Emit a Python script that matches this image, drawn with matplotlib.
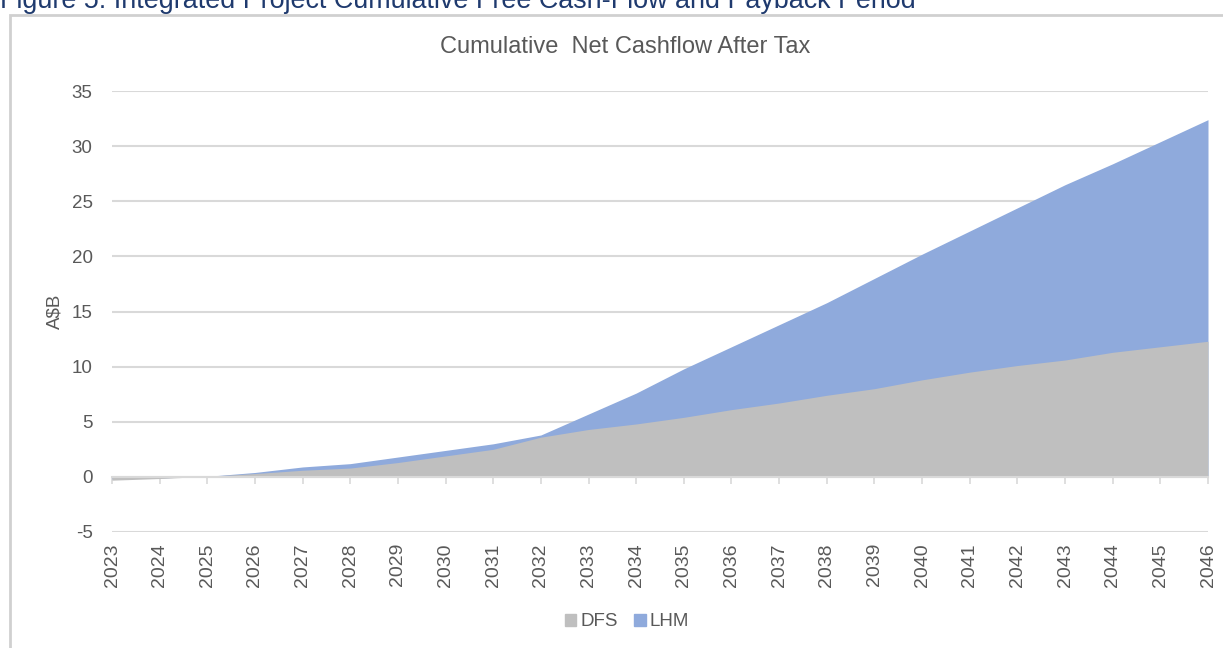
import matplotlib
matplotlib.use("Agg")
import matplotlib.pyplot as plt
from matplotlib.patches import Patch, Rectangle

plt.rcParams['font.family'] = ['Liberation Sans', 'DejaVu Sans']
plt.rcParams['axes.unicode_minus'] = False

# chart data (A$B, cumulative)
years = list(range(2023, 2047))
dfs = [-0.3, -0.15, 0.05, 0.3, 0.6, 0.8, 1.3, 1.9, 2.5, 3.6, 4.3, 4.8,
       5.4, 6.1, 6.7, 7.4, 8.0, 8.8, 9.5, 10.1, 10.6, 11.3, 11.8, 12.3]
lhm = [-0.2, -0.1, 0.05, 0.4, 0.9, 1.2, 1.8, 2.4, 3.0, 3.8, 5.7, 7.6,
       9.8, 11.8, 13.8, 15.8, 18.0, 20.2, 22.3, 24.4, 26.5, 28.4, 30.4, 32.4]
yticks = [-5, 0, 5, 10, 15, 20, 25, 30, 35]

grey_txt = '#595959'
fig = plt.figure(figsize=(12.23, 6.48), dpi=100)

# caption above the chart box (partly cut at the top, as in the source)
fig.text(0.0, 1 - 8/648, "Figure 5: Integrated Project Cumulative Free Cash-Flow and Payback Period",
         color='#1F3A6E', fontsize=19.4, ha='left', va='baseline')
# chart border
fig.patches.append(Rectangle((10/1223, -0.05), 1.2, 1 - 15/648 + 0.05, transform=fig.transFigure,
                             fill=False, edgecolor='#D0D0D0', linewidth=2))
# chart title, centred on the chart box rather than the plot area
fig.text(625/1223, 1 - 47/648, 'Cumulative  Net Cashflow After Tax', fontsize=17,
         color=grey_txt, ha='center', va='center')

ax = fig.add_axes([112/1223, 1 - 532/648, (1208 - 112)/1223, (532 - 91)/648])
ax.fill_between(years, lhm, 0, color='#8FAADC', linewidth=0, zorder=2)
ax.fill_between(years, dfs, 0, color='#BFBFBF', linewidth=0, zorder=3)

ax.set_xlim(2023, 2046)
ax.set_ylim(-5, 35)
ax.set_yticks(yticks)
ax.yaxis.grid(True, color='#D9D9D9', linewidth=1.5, zorder=1)
ax.set_axisbelow(True)
ax.tick_params(axis='y', length=0, labelsize=13.5, labelcolor=grey_txt, pad=14)
for s in ['left', 'right', 'top']:
    ax.spines[s].set_visible(False)
ax.spines['bottom'].set_position(('data', 0))
ax.spines['bottom'].set_color('#D9D9D9')
ax.spines['bottom'].set_linewidth(1.5)
ax.spines['bottom'].set_zorder(4)
ax.set_xticks(years)
ax.tick_params(axis='x', length=5, color='#D9D9D9', width=1.2, labelbottom=False)

sec = ax.secondary_xaxis('bottom')
sec.set_xticks(years, [str(y) for y in years], rotation=90)
sec.tick_params(length=0, labelsize=14, labelcolor=grey_txt, pad=8)
sec.spines['bottom'].set_visible(False)

ax.set_ylabel('A$B', fontsize=13.5, color=grey_txt, labelpad=6)

handles = [Patch(color='#BFBFBF', label='DFS'), Patch(color='#8FAADC', label='LHM')]
fig.legend(handles=handles, loc='center', bbox_to_anchor=(627/1223, 1 - 622/648), ncol=2,
           frameon=False, fontsize=13.5, handlelength=0.6, handleheight=0.6,
           handletextpad=0.2, columnspacing=0.9, labelcolor=grey_txt)

fig.savefig('out.png', dpi=100)
